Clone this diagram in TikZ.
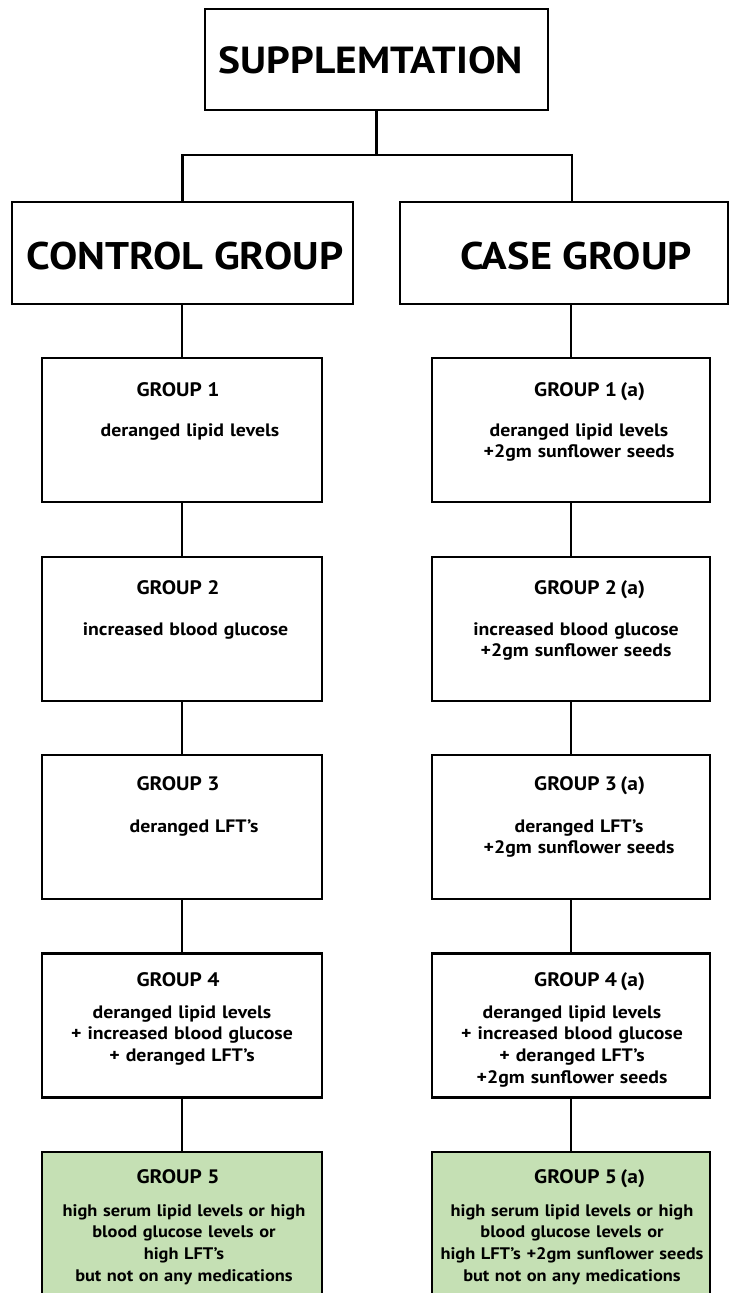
\documentclass[tikz,border=0pt]{standalone}
\usepackage{fontspec}
\setmainfont{PT Sans}[BoldFeatures={FakeStretch=1.1}]
\begin{document}
\begin{tikzpicture}[x=1pt,y=-1pt,
  bx/.style={draw=black,line width=2.7pt,inner sep=0pt,minimum width=280pt,minimum height=144pt},
  greenbx/.style={bx,fill=boxgreen},
  conn/.style={draw=black,line width=2.8pt},
  bigtxt/.style={anchor=base,inner sep=0pt,font=\bfseries\fontsize{38.5}{46}\selectfont},
  titletxt/.style={anchor=base,inner sep=0pt,font=\bfseries\fontsize{19.5}{22}\selectfont},
  titler/.style={titletxt,anchor=base west},
  bodytxt/.style={anchor=base,inner sep=0pt,text width=330pt,align=center,font=\bfseries\fontsize{18}{21.7}\selectfont},
  smallbody/.style={bodytxt,font=\bfseries\fontsize{16.7}{21.7}\selectfont}]
\definecolor{boxgreen}{RGB}{197,224,180}
\clip (0,0) rectangle (730,1293);
\fill[white] (0,0) rectangle (730,1293);
% top level boxes
\node[bx,minimum width=343pt,minimum height=101pt] (top) at (376.5,59.5) {};
\node[bx,minimum width=341pt,minimum height=102pt] (ctrl) at (182.5,253) {};
\node[bx,minimum width=328pt,minimum height=102pt] (case) at (564,253) {};
\node[bigtxt,font=\bfseries\fontsize{37.7}{46}\selectfont] (topT) at (371,73) {SUPPLEMTATION};
\node[bigtxt] (ctrlT) at (185,269) {CONTROL GROUP};
\node[bigtxt] (caseT) at (576,269) {CASE GROUP};
% group boxes
\node[bx] (g1) at (182,430) {};
\node[bx] (g2) at (182,629) {};
\node[bx] (g3) at (182,827) {};
\node[bx] (g4) at (182,1025.5) {};
\node[greenbx,minimum height=145pt] (g5) at (182,1224.5) {};
\node[bx,minimum width=278pt] (h1) at (571,430) {};
\node[bx,minimum width=278pt] (h2) at (571,629) {};
\node[bx,minimum width=278pt] (h3) at (571,827) {};
\node[bx,minimum width=278pt] (h4) at (571,1025.5) {};
\node[greenbx,minimum width=278pt,minimum height=145pt] (h5) at (571,1224.5) {};
% connectors
\coordinate (jR) at (572,155);
\draw[conn] (top.south) -- (top.south |- jR);
\draw[conn] (ctrl.north) |- (jR) -- (jR |- case.north);
\draw[conn] (g1.north) -- (g1.north |- ctrl.south);
\draw[conn] (h1.north) -- (h1.north |- case.south);
\draw[conn] (g1.south) -- (g2.north);
\draw[conn] (g2.south) -- (g3.north);
\draw[conn] (g3.south) -- (g4.north);
\draw[conn] (g4.south) -- (g5.north);
\draw[conn] (h1.south) -- (h2.north);
\draw[conn] (h2.south) -- (h3.north);
\draw[conn] (h3.south) -- (h4.north);
\draw[conn] (h4.south) -- (h5.north);
% titles
\node[titletxt] (g1T) at (178,396) {GROUP 1};
\node[titletxt] (g2T) at (178,594) {GROUP 2};
\node[titletxt] (g3T) at (178,790) {GROUP 3};
\node[titletxt] (g4T) at (178,986) {GROUP 4};
\node[titletxt] (g5T) at (178,1183) {GROUP 5};
\node[titler] (h1T) at (534,396) {GROUP 1\,(a)};
\node[titler] (h2T) at (534,594) {GROUP 2\,(a)};
\node[titler] (h3T) at (534,790) {GROUP 3\,(a)};
\node[titler] (h4T) at (534,986) {GROUP 4\,(a)};
\node[titler] (h5T) at (534,1183) {GROUP 5\,(a)};
% bodies
\node[bodytxt] (g1B) at (190,436) {deranged lipid levels};
\node[bodytxt] (g2B) at (185.5,635) {increased blood glucose};
\node[bodytxt] (g3B) at (194,832) {deranged LFT’s};
\node[bodytxt] (g4B) at (182,1018) {deranged lipid levels\\+ increased blood glucose\\+ deranged LFT’s};
\node[smallbody] (g5B) at (184,1216) {high serum lipid levels or high\\blood glucose levels or\\high LFT’s\\but not on any medications};
\node[bodytxt] (h1B) at (579,436) {deranged lipid levels\\+2gm sunflower seeds};
\node[bodytxt] (h2B) at (576,635) {increased blood glucose\\+2gm sunflower seeds};
\node[bodytxt] (h3B) at (579,832) {deranged LFT’s\\+2gm sunflower seeds};
\node[bodytxt] (h4B) at (572,1018) {deranged lipid levels\\+ increased blood glucose\\+ deranged LFT’s\\+2gm sunflower seeds};
\node[smallbody] (h5B) at (572,1216) {high serum lipid levels or high\\blood glucose levels or\\high LFT’s +2gm sunflower seeds\\but not on any medications};
\end{tikzpicture}
\end{document}
